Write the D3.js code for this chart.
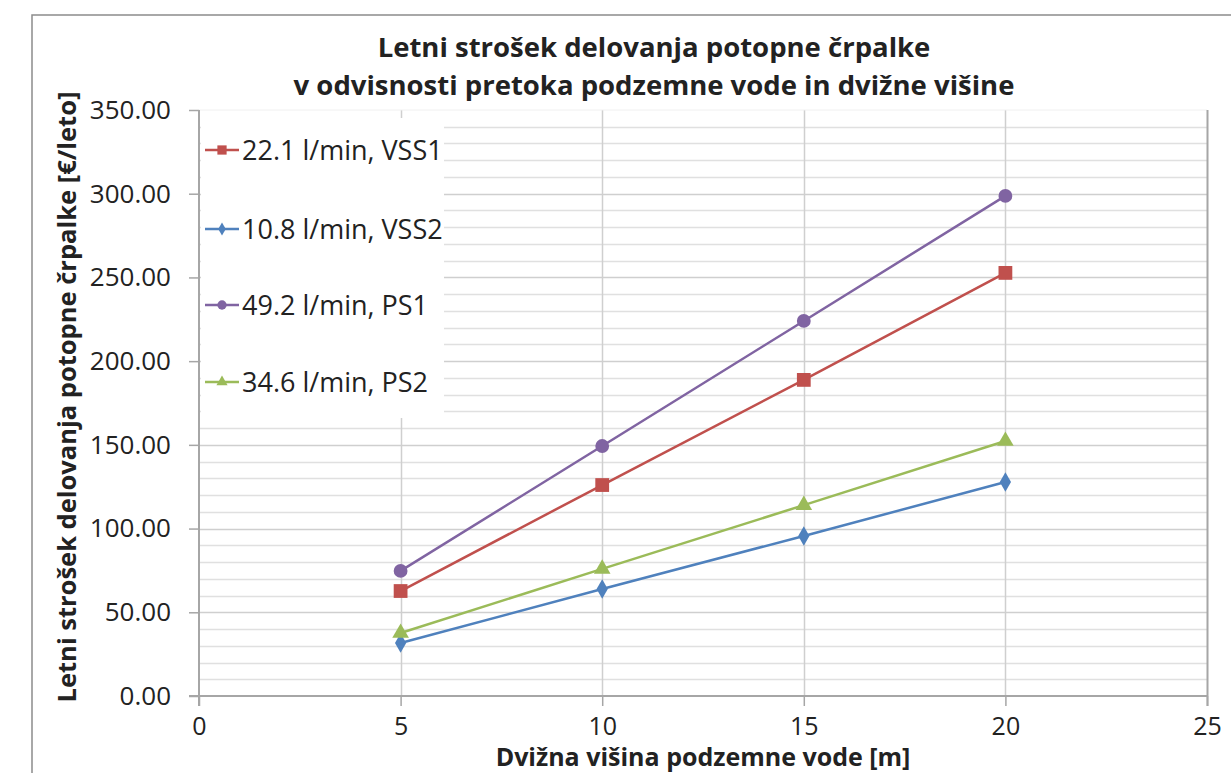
<!DOCTYPE html>
<html>
<head>
<meta charset="utf-8">
<script src="https://cdn.jsdelivr.net/npm/d3@7"></script>
<style>
  body { margin: 0; background: #fff; }
  svg text { font-family: "Open Sans", Lato, sans-serif; fill: #222; }
</style>
</head>
<body>
<div id="chart"></div>
<script>
// podatki
var heights = [5, 10, 15, 20]
var vss1 = [62.7, 126.0, 188.8, 252.7]
var vss2 = [31.7, 63.9, 95.6, 127.8]
var ps1 = [74.7, 149.3, 224.0, 298.7]
var ps2 = [37.6, 75.9, 114.0, 152.3]

var seriesNames = ["22.1 l/min, VSS1", "10.8 l/min, VSS2", "49.2 l/min, PS1", "34.6 l/min, PS2"]
var seriesColors = ["#c0504d", "#4f81bd", "#8064a2", "#9bbb59"]
var seriesMarkers = ["square", "diamond", "circle", "triangle"]
var seriesValues = [vss1, vss2, ps1, ps2]

var xTicks = [0, 5, 10, 15, 20, 25]
var yTicks = [0, 50, 100, 150, 200, 250, 300, 350]

var titleLines = ["Letni strošek delovanja potopne črpalke", "v odvisnosti pretoka podzemne vode in dvižne višine"]
var xTitle = "Dvižna višina podzemne vode [m]"
var yTitle = "Letni strošek delovanja potopne črpalke  [€/leto]"

// canvas
var width = 1231, height = 773
var plot = { left: 199, right: 1207, top: 110, bottom: 696 }

var svg = d3.select("#chart").append("svg")
    .attr("width", width)
    .attr("height", height)

// okvir grafa
svg.append("rect")
    .attr("x", 32).attr("y", 15)
    .attr("width", 1230).attr("height", 800)
    .attr("fill", "none")
    .attr("stroke", "#8c8c8c")
    .attr("stroke-width", 1.5)

var x = d3.scaleLinear().domain([0, 25]).range([plot.left, plot.right])
var y = d3.scaleLinear().domain([0, 350]).range([plot.bottom, plot.top])

// mreža - vodoravne črte na 10
var grid = svg.append("g")
grid.selectAll(".hgrid")
    .data(d3.range(10, 350, 10))
    .enter().append("line")
    .attr("class", "hgrid")
    .attr("x1", plot.left).attr("x2", plot.right)
    .attr("y1", function(d) { return Math.round(y(d)) + 0.5 })
    .attr("y2", function(d) { return Math.round(y(d)) + 0.5 })
    .attr("stroke", function(d) { return d % 50 == 0 ? "#cfcfcf" : "#e0e0e0" })
    .attr("stroke-width", 1.5)

grid.selectAll(".vgrid")
    .data([5, 10, 15, 20])
    .enter().append("line")
    .attr("class", "vgrid")
    .attr("x1", function(d) { return Math.round(x(d)) + 0.5 })
    .attr("x2", function(d) { return Math.round(x(d)) + 0.5 })
    .attr("y1", plot.top).attr("y2", plot.bottom)
    .attr("stroke", "#cfcfcf")
    .attr("stroke-width", 1.5)

// zgornja in desna meja
svg.append("line")
    .attr("x1", plot.left).attr("x2", plot.right)
    .attr("y1", plot.top).attr("y2", plot.top)
    .attr("stroke", "#f0f0f0")
svg.append("line")
    .attr("x1", plot.right + 0.5).attr("x2", plot.right + 0.5)
    .attr("y1", plot.top).attr("y2", plot.bottom + 10)
    .attr("stroke", "#a6a6a6").attr("stroke-width", 2)

// osi
var yAxis = d3.axisLeft(y).tickValues(yTicks).tickSize(10).tickPadding(18)
    .tickFormat(d3.format(".2f"))
var xAxis = d3.axisBottom(x).tickValues(xTicks).tickSize(10).tickPadding(11)
    .tickFormat(d3.format("d"))

var gy = svg.append("g").attr("transform", "translate(" + plot.left + ",0)").call(yAxis)
var gx = svg.append("g").attr("transform", "translate(0," + plot.bottom + ")").call(xAxis)

;[gx, gy].forEach(function(g) {
    g.select(".domain").attr("stroke", "#a6a6a6").attr("stroke-width", 2)
    g.selectAll(".tick line").attr("stroke", "#a6a6a6").attr("stroke-width", 1.5)
    g.selectAll(".tick text")
        .style("font-family", "'Open Sans', sans-serif")
        .style("font-size", "26px")
        .attr("fill", "#262626")
})
gx.selectAll(".tick text").style("font-size", "25px")
gy.select(".domain").attr("d", "M0," + (plot.top) + "V" + (plot.bottom + 10))
gx.select(".domain").attr("d", "M" + (plot.left - 10) + ",0H" + plot.right)

// naslov
svg.selectAll(".title")
    .data(titleLines)
    .enter().append("text")
    .attr("class", "title")
    .attr("x", 654)
    .attr("y", function(d, i) { return 57 + i * 38 })
    .attr("text-anchor", "middle")
    .style("font-size", "27.5px")
    .style("font-weight", "bold")
    .text(function(d) { return d })

svg.append("text")
    .attr("x", 703).attr("y", 766)
    .attr("text-anchor", "middle")
    .style("font-size", "25px")
    .style("font-weight", "bold")
    .text(xTitle)

svg.append("text")
    .attr("transform", "translate(76,397) rotate(-90)")
    .attr("text-anchor", "middle")
    .style("font-size", "25.5px")
    .style("font-weight", "bold")
    .text(yTitle)

// simboli
function markerPath(type, size) {
    var sym = { square: d3.symbolSquare, diamond: d3.symbolDiamond, circle: d3.symbolCircle, triangle: d3.symbolTriangle }[type]
    return d3.symbol().type(sym).size(size)()
}
var markerSize = { square: 190, diamond: 110, circle: 150, triangle: 120 }

var line = d3.line()
    .x(function(d) { return x(d[0]) })
    .y(function(d) { return y(d[1]) })

seriesValues.forEach(function(vals, s) {
    var pts = heights.map(function(h, i) { return [h, vals[i]] })
    svg.append("path")
        .attr("d", line(pts))
        .attr("fill", "none")
        .attr("stroke", seriesColors[s])
        .attr("stroke-width", 2.5)
    svg.selectAll(".m" + s)
        .data(pts)
        .enter().append("path")
        .attr("class", "m" + s)
        .attr("transform", function(d) { return "translate(" + x(d[0]) + "," + y(d[1]) + ")" })
        .attr("d", markerPath(seriesMarkers[s], markerSize[seriesMarkers[s]]))
        .attr("fill", seriesColors[s])
})

// legenda
var legendY = [150, 229, 305, 382]
var legend = svg.append("g")
legend.append("rect")
    .attr("x", 201).attr("y", 118)
    .attr("width", 243).attr("height", 300)
    .attr("fill", "#fff")

seriesNames.forEach(function(name, s) {
    var g = legend.append("g").attr("transform", "translate(0," + legendY[s] + ")")
    g.append("line")
        .attr("x1", 205).attr("x2", 239)
        .attr("y1", 0).attr("y2", 0)
        .attr("stroke", seriesColors[s]).attr("stroke-width", 2.5)
    g.append("path")
        .attr("transform", "translate(222,0)")
        .attr("d", markerPath(seriesMarkers[s], markerSize[seriesMarkers[s]] * 0.45))
        .attr("fill", seriesColors[s])
    g.append("text")
        .attr("x", 242).attr("y", 10)
        .style("font-size", "27px")
        .text(name)
})
</script>
</body>
</html>
